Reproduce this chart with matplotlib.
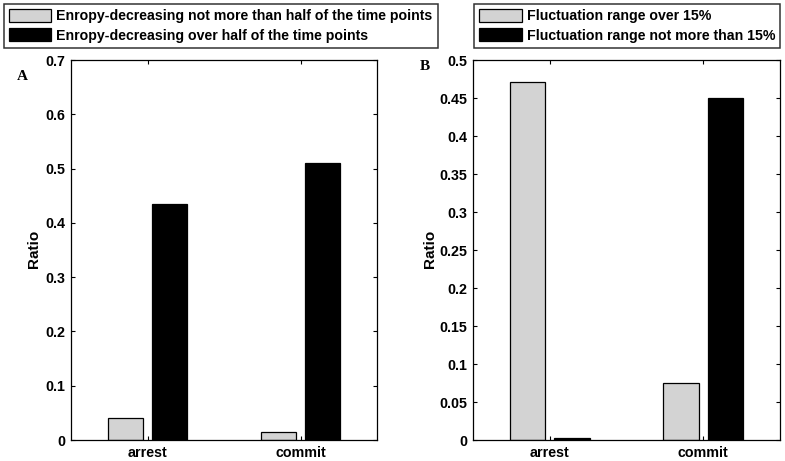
import numpy as np
import matplotlib.pyplot as plt

plt.rcParams['font.family'] = ['Liberation Sans', 'DejaVu Sans']
plt.rcParams['font.weight'] = 'bold'

categories = ["arrest", "commit"]

# panel A
a_low = [0.040, 0.014]
a_high = [0.435, 0.510]
a_labels = ["Enropy-decreasing not more than half of the time points",
            "Enropy-decreasing over half of the time points"]
a_yticks = [0, 0.1, 0.2, 0.3, 0.4, 0.5, 0.6, 0.7]

# panel B
b_over = [0.471, 0.075]
b_under = [0.003, 0.450]
b_labels = ["Fluctuation range over 15%",
            "Fluctuation range not more than 15%"]
b_yticks = [0, 0.05, 0.1, 0.15, 0.2, 0.25, 0.3, 0.35, 0.4, 0.45, 0.5]

GRAY = "#d3d3d3"
W = 0.23
OFF = 0.145
FW, FH = 785, 461

fig = plt.figure(figsize=(7.85, 4.61), dpi=100)
axA = fig.add_axes([71 / FW, 21 / FH, 306 / FW, 380 / FH])
axB = fig.add_axes([473 / FW, 21 / FH, 307 / FW, 380 / FH])


def panel(ax, s1, s2, labels, yticks, ylim, letter, letter_xy, ylab_x, leg_loc, leg_anchor):
    x = np.arange(1, len(categories) + 1)
    h1 = ax.bar(x - OFF, s1, W, color=GRAY, edgecolor="black", linewidth=0.9)
    h2 = ax.bar(x + OFF, s2, W, color="black", edgecolor="black", linewidth=0.9)
    ax.set_xlim(0.5, 2.5)
    ax.set_ylim(*ylim)
    ax.set_xticks(x)
    ax.set_xticklabels(categories, fontsize=10.3, fontweight="bold")
    ax.set_yticks(yticks)
    ax.set_yticklabels([f"{t:g}" for t in yticks], fontsize=10.3, fontweight="bold")
    ax.tick_params(direction="in", length=3, width=0.8, top=True, right=True, pad=4)
    for s in ax.spines.values():
        s.set_linewidth(0.9)
    fig.text(ylab_x / FW, 1 - 249 / FH, "Ratio", rotation=90, ha="center", va="center",
             fontsize=11, fontweight="bold")
    fig.text(letter_xy[0] / FW, 1 - letter_xy[1] / FH, letter, fontsize=11,
             fontweight="bold", family="Liberation Serif", ha="center", va="center")
    leg = fig.legend([h1, h2], labels, loc=leg_loc,
                     bbox_to_anchor=(leg_anchor[0] / FW, 1 - leg_anchor[1] / FH),
                     fontsize=10.2, frameon=True, fancybox=False, edgecolor="black",
                     handlelength=3.0, handleheight=1.05, handletextpad=0.35,
                     borderpad=0.35, labelspacing=0.35, borderaxespad=0)
    leg.get_frame().set_linewidth(1.1)
    for t in leg.get_texts():
        t.set_fontweight("bold")


panel(axA, a_low, a_high, a_labels, a_yticks, (0, 0.7), "A", (22, 76), 34,
      "upper left", (4, 4))
panel(axB, b_over, b_under, b_labels, b_yticks, (0, 0.5), "B", (425, 66), 430,
      "upper right", (780, 4))

fig.savefig("out.png", dpi=100)
